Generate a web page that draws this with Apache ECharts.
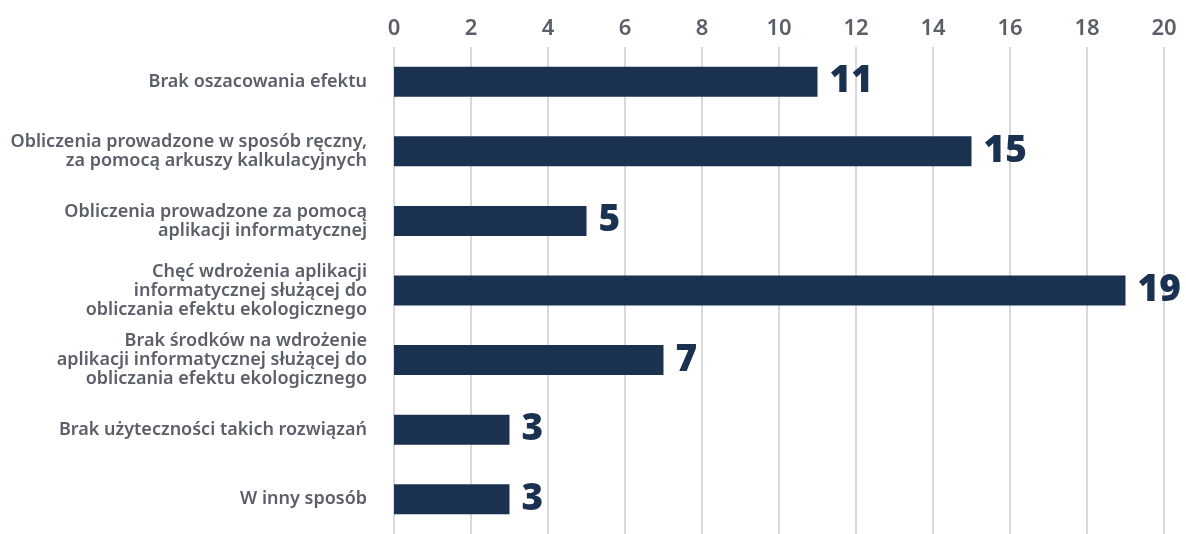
<!DOCTYPE html>
<html>
<head>
<meta charset="utf-8">
<script src="https://cdn.jsdelivr.net/npm/echarts@6/dist/echarts.min.js"></script>
<style>
  html, body { margin: 0; padding: 0; background: #ffffff; }
  #chart { width: 1186px; height: 534px; }
</style>
</head>
<body>
<div id="chart"></div>
<script>
// Survey answers: how the ecological effect is estimated
const categories = [
  'Brak oszacowania efektu',
  'Obliczenia prowadzone w sposób ręczny,\nza pomocą arkuszy kalkulacyjnych',
  'Obliczenia prowadzone za pomocą\naplikacji informatycznej',
  'Chęć wdrożenia aplikacji\ninformatycznej służącej do\nobliczania efektu ekologicznego',
  'Brak środków na wdrożenie\naplikacji informatycznej służącej do\nobliczania efektu ekologicznego',
  'Brak użyteczności takich rozwiązań',
  'W inny sposób'
];
const counts = [11, 15, 5, 19, 7, 3, 3];

// Value axis range
const axisMin = 0;
const axisMax = 20;
const axisStep = 2;

const navy = '#1a3150';
const grey = '#5b6068';

const chart = echarts.init(document.getElementById('chart'), null, { renderer: 'canvas' });
chart.setOption({
  animation: false,
  backgroundColor: '#ffffff',
  grid: { left: 394, right: 22, top: 47, bottom: 0, containLabel: false },
  xAxis: {
    type: 'value',
    position: 'top',
    min: axisMin,
    max: axisMax,
    interval: axisStep,
    axisLine: { show: false },
    axisTick: { show: false },
    axisLabel: {
      margin: 7,
      color: grey,
      fontFamily: 'Noto Sans',
      fontWeight: 600,
      fontSize: 22
    },
    splitLine: { show: true, lineStyle: { color: '#d9d9d9', width: 2 } }
  },
  yAxis: {
    type: 'category',
    inverse: true,
    data: categories,
    axisLine: { show: false },
    axisTick: { show: false },
    axisLabel: {
      margin: 27,
      color: grey,
      fontFamily: 'Noto Sans',
      fontWeight: 600,
      fontSize: 18,
      lineHeight: 19,
      align: 'right'
    }
  },
  series: [{
    type: 'bar',
    data: counts,
    barWidth: 30,
    itemStyle: { color: navy },
    label: {
      show: true,
      position: 'right',
      distance: 12,
      color: navy,
      fontFamily: 'Noto Sans',
      fontWeight: 900,
      fontSize: 37
    }
  }]
});
</script>
</body>
</html>
